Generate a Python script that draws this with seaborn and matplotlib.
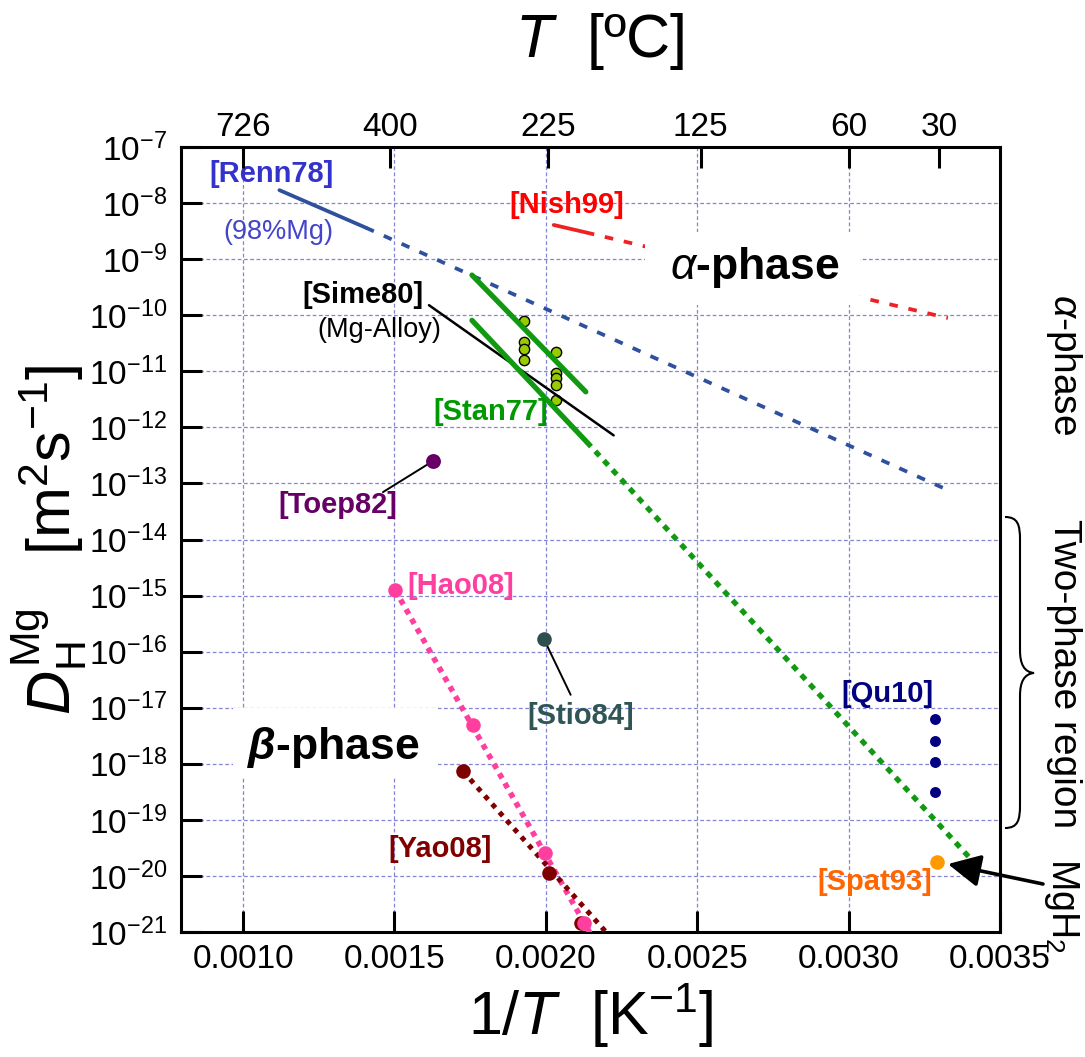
import numpy as np
import pandas as pd
import matplotlib
matplotlib.use("Agg")
import matplotlib.pyplot as plt
import seaborn as sns
from matplotlib.path import Path
from matplotlib.patches import PathPatch, Rectangle
from matplotlib.ticker import NullLocator, LogLocator

# ---------------- data (x = 1/T [K^-1], y = D [m^2 s^-1]) ----------------
renn_solid_x = [0.00112, 0.001406]
renn_solid_D = [1.70e-8, 3.63e-9]
renn_dot_x = [0.001406, 0.003328]
renn_dot_D = [3.63e-9, 7.6e-14]

nish_solid_x = [0.002026, 0.002132]
nish_solid_D = [4.07e-9, 3.0e-9]
nish_dot_x = [0.002132, 0.003328]
nish_dot_D = [3.0e-9, 8.9e-11]

sime_x = [0.001614, 0.002224]
sime_D = [1.51e-10, 7.2e-13]

stan_up_x = [0.001756, 0.002132]
stan_up_D = [5.2e-10, 4.3e-12]
stan_lo_x = [0.001756, 0.002135]
stan_lo_D = [8.1e-11, 5.5e-13]
stan_ext_x = [0.002135, 0.003400]
stan_ext_D = [5.5e-13, 2.1e-20]
stan_pts_x = [0.001927, 0.001927, 0.001927, 0.001927,
              0.002033, 0.002033, 0.002033, 0.002033, 0.002033]
stan_pts_D = [7.9e-11, 3.3e-11, 2.5e-11, 1.6e-11,
              2.2e-11, 9.3e-12, 7.6e-12, 5.6e-12, 3.1e-12]

toep_x = [0.001627]
toep_D = [2.5e-13]

hao_x = [0.001502, 0.001759, 0.001996, 0.002125]
hao_D = [1.26e-15, 4.9e-18, 2.6e-20, 1.45e-21]
hao_line_x = [0.001502, 0.002165]
hao_line_D = [1.26e-15, 6.3e-22]

stio_x = [0.001993]
stio_D = [1.7e-16]

yao_x = [0.001726, 0.002010, 0.002115]
yao_D = [7.4e-19, 1.12e-20, 1.45e-21]
yao_line_x = [0.001726, 0.002240]
yao_line_D = [7.4e-19, 5.6e-22]

qu_x = [0.003285, 0.003285, 0.003285, 0.003285]
qu_D = [6.3e-18, 2.6e-18, 1.07e-18, 3.2e-19]

spat_x = [0.003292]
spat_D = [1.8e-20]

x_ticks = [0.0010, 0.0015, 0.0020, 0.0025, 0.0030, 0.0035]
x_ticklabels = ["0.0010", "0.0015", "0.0020", "0.0025", "0.0030", "0.0035"]
top_ticks_C = [726, 400, 225, 125, 60, 30]

# ---------------- style ----------------
sns.set_theme(style="white")
plt.rcParams["font.family"] = ["Liberation Sans", "DejaVu Sans"]
plt.rcParams["mathtext.fontset"] = "custom"
plt.rcParams["mathtext.rm"] = "Liberation Sans"
plt.rcParams["mathtext.it"] = "Liberation Sans:italic"
plt.rcParams["mathtext.bf"] = "Liberation Sans:bold:italic"
plt.rcParams["mathtext.sf"] = "Liberation Sans"
plt.rcParams["axes.unicode_minus"] = False
for k in ["text.color", "axes.labelcolor", "xtick.color", "ytick.color", "axes.edgecolor"]:
    plt.rcParams[k] = "black"

W, H = 1085, 1057
fig = plt.figure(figsize=(W / 100, H / 100), dpi=100)
L, R, T, B = 181, 1000, 147, 932
ax = fig.add_axes([L / W, 1 - B / H, (R - L) / W, (B - T) / H])
ax.set_yscale("log")
ax.set_xlim(0.000795, 0.0035)
ax.set_ylim(1e-21, 1e-7)


def axfrac(px, py):
    return ((px - L) / (R - L), (B - py) / (B - T))


def line(x, y, color, lw, ls="-", z=3):
    sns.lineplot(x=x, y=y, ax=ax, color=color, lw=lw, linestyle=ls,
                 zorder=z, estimator=None, sort=False, legend=False)


def pts(x, y, color, s, ec=None, elw=0, z=5):
    sns.scatterplot(x=x, y=y, ax=ax, color=color, s=s,
                    edgecolor=ec if ec else color, linewidth=elw,
                    zorder=z, legend=False)


BLUE = "#2f4f9f"
line(renn_solid_x, renn_solid_D, BLUE, 2.7)
line(renn_dot_x, renn_dot_D, BLUE, 2.7, (0, (2.3, 2.9)))
RED = "#ee2222"
line(nish_solid_x, nish_solid_D, RED, 2.7)
line(nish_dot_x, nish_dot_D, RED, 2.7, (0, (2.3, 2.9)))
line(sime_x, sime_D, "black", 1.8, "-", 4)
GREEN = "#129912"
pts(stan_pts_x, stan_pts_D, "#99cc00", 55, "black", 1.0, z=3.5)
line(stan_up_x, stan_up_D, GREEN, 3.8, "-", 4)
line(stan_lo_x, stan_lo_D, GREEN, 3.8, "-", 4)
line(stan_ext_x, stan_ext_D, GREEN, 3.8, (0, (1.2, 1.2)), 4)
PINK = "#ff3fa0"
line(hao_line_x, hao_line_D, PINK, 4.0, (0, (1.0, 1.0)), 4)
MAROON = "#7f0000"
line(yao_line_x, yao_line_D, MAROON, 3.6, (0, (1.0, 1.2)), 4)
pts(yao_x, yao_D, MAROON, 110)
pts(hao_x, hao_D, PINK, 110)
pts(toep_x, toep_D, "#660066", 115)
pts(stio_x, stio_D, "#2f4f4f", 110)
pts(qu_x, qu_D, "#000080", 62)
pts(spat_x, spat_D, "#ff9900", 110)

# ---------------- axes cosmetics ----------------
for sp in ax.spines.values():
    sp.set_linewidth(2.2)
    sp.set_color("black")
    sp.set_visible(True)
ax.set_xticks(x_ticks)
ax.set_xticklabels(x_ticklabels)
ax.yaxis.set_major_locator(LogLocator(base=10, numticks=30))
ax.yaxis.set_minor_locator(NullLocator())
ax.xaxis.set_minor_locator(NullLocator())
ax.tick_params(axis="x", which="major", direction="in", length=15, width=2.2,
               labelsize=24, pad=9, bottom=True, top=False)
ax.tick_params(axis="y", which="major", direction="in", length=15, width=2.2,
               labelsize=24, pad=10, left=True, right=False)
ax.grid(True, which="major", color="#8585d5", linestyle=(0, (3, 2)), lw=0.9)
ax.set_axisbelow(True)

ax.set_xlabel("1/$T$  [K$^{-1}$]", fontsize=44, labelpad=4)
ax.set_ylabel(r"$D_{\mathrm{H}}^{\mathrm{Mg}}$   [m$^{2}$s$^{-1}$]", fontsize=44, labelpad=0)

ax2 = ax.twiny()
ax2.set_xlim(ax.get_xlim())
ax2.set_xticks([1.0 / (c + 273.15) for c in top_ticks_C])
ax2.set_xticklabels([str(c) for c in top_ticks_C])
ax2.xaxis.set_minor_locator(NullLocator())
ax2.tick_params(axis="x", direction="in", length=15, width=2.2, labelsize=24, pad=3)
for sp in ax2.spines.values():
    sp.set_visible(False)
ax2.grid(False)

fig.text(600 / W, 1 - 42 / H, "$T$  [ºC]", fontsize=44, ha="center", va="center")

# ---------------- labels ----------------
def lab(x, y, s, c, size=21, bold=True):
    ax.text(x, y, s, color=c, fontsize=size, ha="center", va="center",
            fontweight="bold" if bold else "normal", zorder=6)


lab(0.001093, 3.3e-8, "[Renn78]", "#3333cc")
lab(0.001116, 3.0e-9, "(98%Mg)", "#4444cc", 19.5, False)
lab(0.002069, 9.3e-9, "[Nish99]", "#ff0000")
lab(0.001397, 2.3e-10, "[Sime80]", "black")
lab(0.001449, 5.5e-11, "(Mg-Alloy)", "black", 19.5, False)
lab(0.001818, 1.86e-12, "[Stan77]", "#009900")
lab(0.001314, 4.2e-14, "[Toep82]", "#660066")
lab(0.001720, 1.48e-15, "[Hao08]", "#ff3fa0")
lab(0.002115, 7.1e-18, "[Stio84]", "#2f5555")
lab(0.001650, 3.0e-20, "[Yao08]", "#800000")
lab(0.003127, 1.74e-17, "[Qu10]", "#000080")
lab(0.003087, 7.8e-21, "[Spat93]", "#ff6600")

# leader lines
ax.annotate("", xy=(toep_x[0], toep_D[0]), xytext=(0.001462, 7.0e-14),
            arrowprops=dict(arrowstyle="-", color="black", lw=1.4,
                            shrinkA=0, shrinkB=0), zorder=4)
ax.annotate("", xy=(stio_x[0], stio_D[0]), xytext=(0.002082, 1.7e-17),
            arrowprops=dict(arrowstyle="-", color="black", lw=1.4,
                            shrinkA=0, shrinkB=0), zorder=4)

# phase labels with white boxes
x0, y0 = axfrac(645, 305)
ax.add_patch(Rectangle((x0, y0), 215 / (R - L), 73 / (B - T), transform=ax.transAxes,
                       facecolor="white", edgecolor="none", zorder=5))
ax.text(*axfrac(755, 268), r"$\alpha$-phase", transform=ax.transAxes, fontsize=32,
        fontweight="bold", ha="center", va="center", zorder=6, color="black")
x0, y0 = axfrac(233, 778)
ax.add_patch(Rectangle((x0, y0), 205 / (R - L), 70 / (B - T), transform=ax.transAxes,
                       facecolor="white", edgecolor="none", zorder=5))
ax.text(*axfrac(333, 748), r"$\mathbf{\beta}$-phase", transform=ax.transAxes, fontsize=32,
        fontweight="bold", ha="center", va="center", zorder=6, color="black")

# right side labels
ax.text(*axfrac(1064, 365), r"$\alpha$-phase", transform=ax.transAxes, fontsize=28,
        rotation=270, ha="center", va="center", clip_on=False)
ax.text(*axfrac(1064, 674), "Two-phase region", transform=ax.transAxes, fontsize=28,
        rotation=270, ha="center", va="center", clip_on=False)
ax.text(*axfrac(1061, 905), "MgH$_2$", transform=ax.transAxes, fontsize=27,
        rotation=270, ha="center", va="center", clip_on=False)

# brace
bp = [(1005, 517), (1018, 517), (1020, 525), (1020, 540), (1020, 650),
      (1020, 664), (1024, 672), (1034, 673), (1024, 674), (1020, 682), (1020, 696),
      (1020, 805), (1020, 820), (1018, 828), (1005, 828)]
codes = [Path.MOVETO, Path.CURVE4, Path.CURVE4, Path.CURVE4, Path.LINETO,
         Path.CURVE4, Path.CURVE4, Path.CURVE4, Path.CURVE4, Path.CURVE4, Path.CURVE4,
         Path.LINETO, Path.CURVE4, Path.CURVE4, Path.CURVE4]
brace = PathPatch(Path([axfrac(*p) for p in bp], codes), facecolor="none",
                  edgecolor="black", lw=1.5, transform=ax.transAxes, clip_on=False)
ax.add_patch(brace)

# MgH2 arrow
ax.annotate("", xy=(0.003328, 1.63e-20), xycoords="data",
            xytext=axfrac(1043, 884), textcoords="axes fraction",
            arrowprops=dict(arrowstyle="-|>,head_length=0.9,head_width=0.45",
                            mutation_scale=22, color="black", lw=2.6,
                            shrinkA=0, shrinkB=0),
            annotation_clip=False, zorder=7)

fig.savefig("out.png", dpi=100)
